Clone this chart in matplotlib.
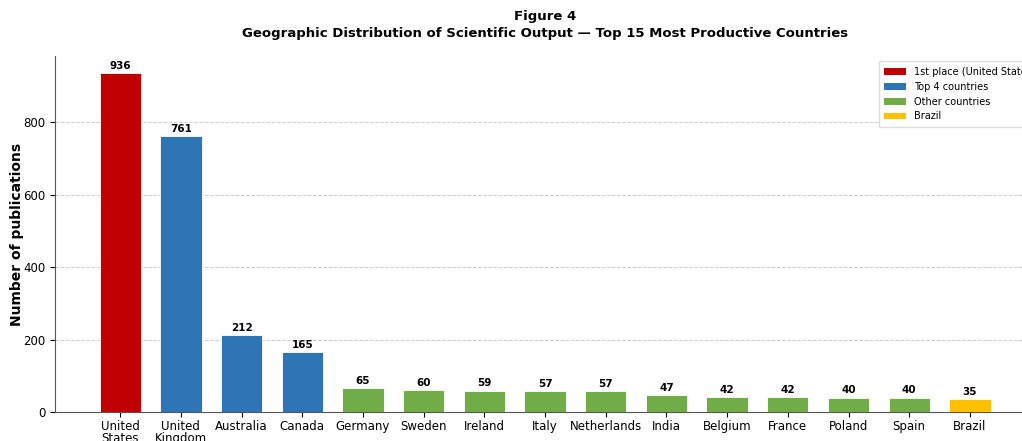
import matplotlib.pyplot as plt
from matplotlib.patches import Patch

paises = ['United\nStates', 'United\nKingdom', 'Australia', 'Canada', 'Germany', 'Sweden',
          'Ireland', 'Italy', 'Netherlands', 'India', 'Belgium', 'France', 'Poland', 'Spain', 'Brazil']
publicacoes = [936, 761, 212, 165, 65, 60, 59, 57, 57, 47, 42, 42, 40, 40, 35]
grupos = ['first', 'top', 'top', 'top', 'other', 'other', 'other', 'other', 'other',
          'other', 'other', 'other', 'other', 'other', 'brazil']

cores = {'first': '#C00000', 'top': '#2E75B6', 'other': '#70AD47', 'brazil': '#FFC000'}
legenda = [('first', '1st place (United States)'), ('top', 'Top 4 countries'),
           ('other', 'Other countries'), ('brazil', 'Brazil')]

fig = plt.figure(figsize=(10.22, 4.41), dpi=100)
ax = fig.add_axes([0.0538, 0.0658, 0.959, 0.807])

x = range(len(paises))
barras = ax.bar(x, publicacoes, width=0.68, color=[cores[g] for g in grupos],
                edgecolor='white', linewidth=0.6, zorder=3)
for b, v in zip(barras, publicacoes):
    ax.text(b.get_x() + b.get_width() / 2, v + 6, str(v), ha='center', va='bottom',
            fontsize=7.5, fontweight='bold')

ax.set_xticks(list(x))
ax.set_xticklabels(paises, fontsize=8.5, linespacing=0.95)
ax.tick_params(axis='x', pad=2)
ax.tick_params(axis='y', labelsize=8.5)
ax.set_ylim(0, 983)
ax.set_ylabel('Number of publications', fontsize=10, fontweight='bold', labelpad=-1)

# titulo em duas linhas, centrado no eixo
cx = 0.0538 + 0.959 / 2
fig.text(cx, 0.9615, 'Figure 4', ha='center', va='center', fontsize=9.5, fontweight='bold')
fig.text(cx, 0.923, 'Geographic Distribution of Scientific Output — Top 15 Most Productive Countries',
         ha='center', va='center', fontsize=9.5, fontweight='bold')

ax.yaxis.grid(True, linestyle='--', color='#cccccc', linewidth=0.7, zorder=0)
ax.spines['top'].set_visible(False)
ax.spines['right'].set_visible(False)
ax.spines['left'].set_color('#555555')
ax.spines['bottom'].set_color('#555555')

handles = [Patch(facecolor=cores[k], label=t) for k, t in legenda]
ax.legend(handles=handles, loc='upper right', bbox_to_anchor=(1.011, 1.0), fontsize=7,
          frameon=True, framealpha=1, edgecolor='#dddddd', handlelength=2.2, borderpad=0.6)

fig.savefig('out.png', dpi=100)
